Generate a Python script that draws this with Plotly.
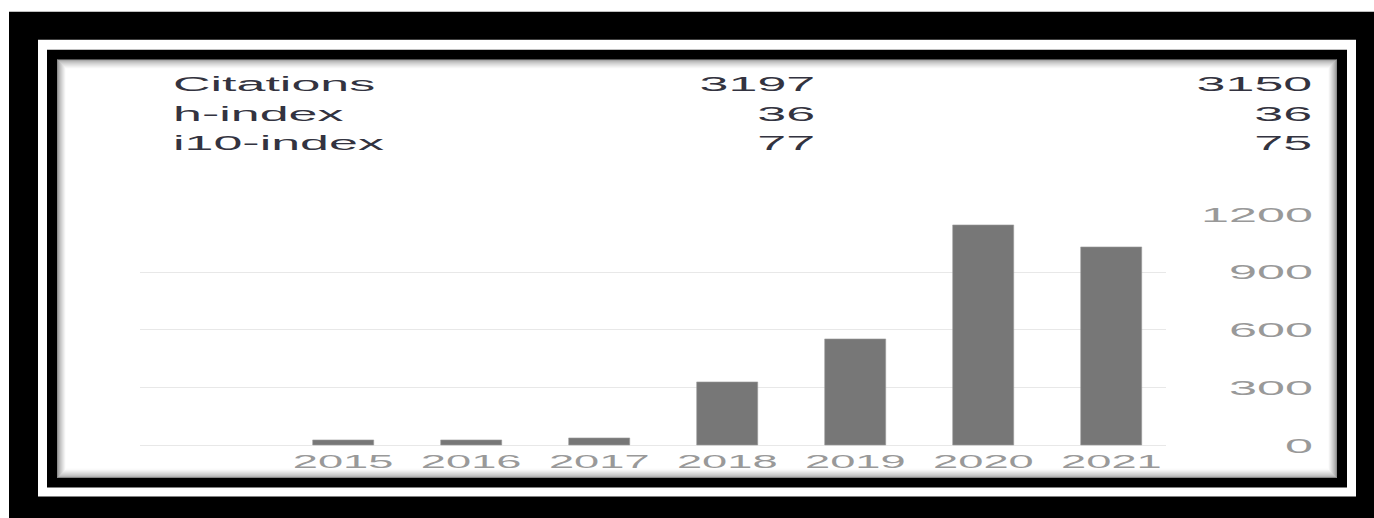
import plotly.graph_objects as go

# ---------------- data ----------------
years = ["2015", "2016", "2017", "2018", "2019", "2020", "2021"]
citations = [26, 26, 40, 331, 550, 1145, 1030]
y_ticks = [0, 300, 600, 900, 1200]

metric_labels = ["Citations", "h-index", "i10-index"]
metric_all = ["3197", "36", "77"]
metric_since = ["3150", "36", "75"]

# ---------------- geometry helpers ----------------
W, H = 1374, 518
# the photographed page comes out slightly squeezed vertically
# (y_photo ~= V_OFF + V_SCALE * y_page); positions are expressed in
# reference-picture pixels and mapped back to page coordinates here.
V_OFF, V_SCALE = 9.2, 0.962


def px(x):
    return x / W


def py(y_ref):
    return 1 - ((y_ref - V_OFF) / V_SCALE) / H


FONT = "Liberation Sans, Arial, sans-serif"
F_HEAD = 20 / V_SCALE
F_YTICK = 20 / V_SCALE
F_XTICK = 18 / V_SCALE

fig = go.Figure()
fig.add_trace(
    go.Bar(
        x=years,
        y=citations,
        width=0.477,
        marker=dict(color="#777777", line=dict(width=0.6, color="#9a9a9a")),
        hoverinfo="x+y",
    )
)

shapes = []


def rect(x0, x1, y_top, y_bot, color):
    shapes.append(dict(type="rect", xref="paper", yref="paper", x0=px(x0), x1=px(x1),
                       y0=py(y_bot), y1=py(y_top), fillcolor=color, line=dict(width=0), layer="below"))


# outer frames
rect(9, W + 2, 10, H + 14, "#000000")
rect(38, 1356, 38, 496, "#ffffff")
rect(47, 1347, 48, 487, "#000000")
rect(57, 1337, 58, 477, "#ffffff")

# inner shadow of the content box
L, R, T, B = 57, 1337, 58, 477
steps = 9
for i in range(steps):
    g = int(140 + (252 - 140) * (i / (steps - 1)) ** 0.7)
    col = "rgb(%d,%d,%d)" % (g, g, g)
    rect(L + i, L + i + 1, T + i, B - i, col)          # left
    rect(L + i, R - i, T + i, T + i + 1, col)          # top
    rect(L + i, R - i, B - i - 1, B - i, col)          # bottom
    rect(R - i - 1, R - i, T + i, B - i, col)          # right

annotations = []
row_y0, row_dy = 82, 29.5
for i, (lab, va, vs) in enumerate(zip(metric_labels, metric_all, metric_since)):
    yy = py(row_y0 + row_dy * i)
    annotations.append(dict(x=px(171), y=yy, xref="paper", yref="paper", text=lab, showarrow=False,
                            xanchor="left", yanchor="middle", align="left",
                            font=dict(family=FONT, size=F_HEAD, color="#333340")))
    annotations.append(dict(x=px(817), y=yy, xref="paper", yref="paper", text=va, showarrow=False,
                            xanchor="right", yanchor="middle", align="right",
                            font=dict(family=FONT, size=F_HEAD, color="#333340")))
    annotations.append(dict(x=px(1314), y=yy, xref="paper", yref="paper", text=vs, showarrow=False,
                            xanchor="right", yanchor="middle", align="right",
                            font=dict(family=FONT, size=F_HEAD, color="#333340")))

fig.update_layout(
    width=W,
    height=H,
    margin=dict(l=0, r=0, t=0, b=0),
    paper_bgcolor="#ffffff",
    plot_bgcolor="rgba(0,0,0,0)",
    showlegend=False,
    shapes=shapes,
    annotations=annotations,
    bargap=0,
    xaxis=dict(
        type="category",
        categoryorder="array",
        categoryarray=years,
        range=[-1.586, 6.426],
        domain=[px(140), px(1166)],
        showgrid=False,
        zeroline=False,
        showline=False,
        ticks="",
        ticklabelstandoff=2,
        tickfont=dict(family=FONT, size=F_XTICK, color="#999999"),
        fixedrange=True,
    ),
    yaxis=dict(
        range=[-5.2, 1205.2],
        domain=[py(446), py(212)],
        anchor="free",
        position=px(1313),
        side="left",
        tickvals=y_ticks,
        ticktext=[str(v) for v in y_ticks],
        showgrid=True,
        gridcolor="#e8e8e8",
        gridwidth=1,
        zeroline=False,
        showline=False,
        ticks="",
        tickfont=dict(family=FONT, size=F_YTICK, color="#999999"),
        fixedrange=True,
    ),
)

# The reference picture is stretched horizontally: widen every text glyph
# around its own anchor point (positions still come from Plotly).
stretch_js = """
var gd = document.getElementById('{plot_id}');
document.body.style.margin = '0';
function stretchTexts(){
  gd.querySelectorAll('text').forEach(function(t){
    if (t.getAttribute('data-stretched')) return;
    var s = t.closest('.annotation') ? 2.5 : 2.42;
    var b; try { b = t.getBBox(); } catch(e) { return; }
    var a = t.getAttribute('text-anchor') || window.getComputedStyle(t).textAnchor || 'start';
    var ax = a === 'end' ? b.x + b.width : (a === 'middle' ? b.x + b.width / 2 : b.x);
    var tr = t.getAttribute('transform') || '';
    t.setAttribute('transform', tr + ' translate(' + ax + ',0) scale(' + s + ',1) translate(' + (-ax) + ',0)');
    t.setAttribute('data-stretched', '1');
  });
}
stretchTexts();
"""

fig.write_html("out.html", post_script=stretch_js, config={"displayModeBar": False})
